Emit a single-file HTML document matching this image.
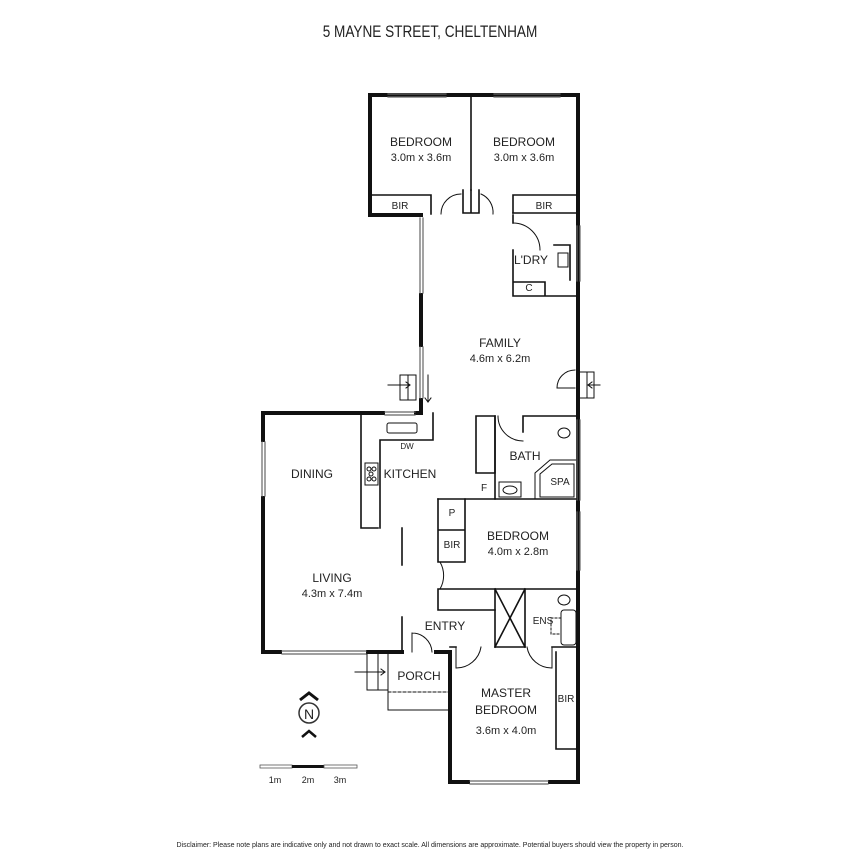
<!DOCTYPE html>
<html><head><meta charset="utf-8"><style>
html,body{margin:0;padding:0;background:#fff;}
svg{display:block;}
text{font-family:"Liberation Sans",sans-serif;fill:#222;}
</style></head><body>
<svg width="860" height="860" viewBox="0 0 860 860" xmlns="http://www.w3.org/2000/svg">
<text x="430" y="37" font-size="17" text-anchor="middle" transform="translate(430 0) scale(0.8 1) translate(-430 0)">5 MAYNE STREET, CHELTENHAM</text>

<g stroke="#111" fill="none" stroke-linecap="square">
<path d="M370 95 H578 V770" stroke-width="4"/>
<path d="M370 95 V215 H421" stroke-width="4"/>
<path d="M421 295 V345" stroke-width="4"/>
<path d="M421 400 V413 H416" stroke-width="4"/>
<path d="M383 413 H263 V440" stroke-width="4"/>
<path d="M263 498 V652 H280" stroke-width="4"/>
<path d="M368 652 H402" stroke-width="4"/>
<path d="M436 652 H450 V782 H468" stroke-width="4"/>
<path d="M550 782 H578 V770" stroke-width="4"/>
<g stroke-width="1.2" stroke="#666">
<path d="M388 94 H446 M388 97 H446 M494 94 H560 M494 97 H560"/>
<path d="M420 218 V293 M423 218 V293 M420 347 V398 M423 347 V398"/>
<path d="M385 412 H415 M385 415 H415"/>
<path d="M262 442 V496 M265 442 V496"/>
<path d="M282 651 H366 M282 654 H366"/>
<path d="M470 781 H548 M470 784 H548"/>
<path d="M577 226 V281 M580 226 V281 M577 420 V500 M580 420 V500 M577 512 V570 M580 512 V570"/>
</g>
<g stroke-width="1.6">
<path d="M471 95 V190"/>
<path d="M463 190 V213 H479 V190 M471 190 V213"/>
<path d="M372 195 H431 V214"/>
<path d="M513 213 V195 H576"/>
<path d="M513 213 H576"/>
<path d="M513 215 V223 M513 250 V296 H576 M513 282 H545 V296"/>
<path d="M554 245 H570 V280"/>
<path d="M361 413 V528 H378"/>
<path d="M380 528 V440 H433 V413"/>
<path d="M402 528 V565 M402 617 V652"/>
<path d="M476 416 H495 V473 H476 Z"/>
<path d="M495 416 V499 M523 416 V432 M523 416 H576"/>
<path d="M495 499 H576 M438 499 H495"/>
<path d="M438 499 V562 M438 562 H464 M465 499 V562 M438 530 H465"/>
<path d="M438 589 H576 M438 589 V610 H495"/>
<path d="M495 589 V647 M525 589 V647 M495 589 L525 647 M525 589 L495 647"/>
<path d="M450 647 H456 M495 647 H525 M552 647 H576"/>
<path d="M556 652 V749 H576"/>
</g>
<g stroke-width="1">
<path d="M441 214 A20 20 0 0 1 461 194"/>
<path d="M481 194 A20 20 0 0 1 493 214"/>
<path d="M513 223 A27 27 0 0 1 540 250"/>
<path d="M575 370 A18 18 0 0 0 557 388 H575"/>
<path d="M498 416 A25 25 0 0 0 523 441"/>
<path d="M440 562 A27 27 0 0 1 440 589 M440 562 H438"/>
<path d="M412 633 A20 20 0 0 1 432 652 M412 633 V652"/>
<path d="M456 647 V668 A25 25 0 0 0 481 647"/>
<path d="M552 647 V668 A25 25 0 0 1 527 647"/>
</g>
<g stroke-width="1">
<rect x="387" y="423" width="30" height="10" rx="2"/>
<rect x="365" y="463" width="13" height="22"/>
<circle cx="369" cy="469" r="2"/><circle cx="374" cy="469" r="2"/><circle cx="371" cy="474" r="2"/><circle cx="369" cy="479" r="2"/><circle cx="374" cy="479" r="2"/>
<ellipse cx="564" cy="433" rx="6" ry="5"/>
<path d="M535 499 V473 L550 460 H576 M540 497 V474 L552 464 H574 V497 Z"/>
<rect x="499" y="482" width="22" height="15"/>
<ellipse cx="510" cy="490" rx="7" ry="4"/>
<ellipse cx="564" cy="600" rx="6" ry="5"/>
<rect x="561" y="610" width="15" height="35" rx="3"/>
<rect x="551" y="618" width="10" height="16" stroke-dasharray="2 2"/>
<rect x="558" y="253" width="10" height="14"/>
<path d="M388 652 V710 H450"/>
<path d="M388 692 H450" stroke-dasharray="3 2"/>
<path d="M367 652 V690 H388 M378 652 V690"/>
<path d="M355 672 H385 M381 669 L385 672 L381 675"/>
<path d="M400 375 H416 V400 H400 Z M408 375 V400"/>
<path d="M388 385 H410 M406 382 L410 385 L406 388"/>
<path d="M428 375 V402 M425 398 L428 402 L431 398"/>
<path d="M580 372 H594 V398 H580 M587 372 V398 M600 385 H588 M592 382 L588 385 L592 388"/>
</g>
</g>

<g font-size="12" text-anchor="middle">
<text x="421" y="146">BEDROOM</text><text x="421" y="161" font-size="11">3.0m x 3.6m</text>
<text x="524" y="146">BEDROOM</text><text x="524" y="161" font-size="11">3.0m x 3.6m</text>
<text x="400" y="209" font-size="10">BIR</text><text x="544" y="209" font-size="10">BIR</text>
<text x="531" y="264">L'DRY</text><text x="529" y="291" font-size="10">C</text>
<text x="500" y="347">FAMILY</text><text x="500" y="362" font-size="11">4.6m x 6.2m</text>
<text x="407" y="449" font-size="8">DW</text>
<text x="312" y="478">DINING</text><text x="410" y="478">KITCHEN</text>
<text x="525" y="460">BATH</text><text x="560" y="485" font-size="10">SPA</text>
<text x="484" y="491" font-size="10">F</text>
<text x="452" y="516" font-size="10">P</text><text x="452" y="548" font-size="10">BIR</text>
<text x="518" y="540">BEDROOM</text><text x="518" y="555" font-size="11">4.0m x 2.8m</text>
<text x="332" y="582">LIVING</text><text x="332" y="597" font-size="11">4.3m x 7.4m</text>
<text x="445" y="630">ENTRY</text><text x="543" y="624" font-size="10">ENS</text>
<text x="419" y="680">PORCH</text>
<text x="506" y="697">MASTER</text><text x="506" y="714">BEDROOM</text><text x="506" y="734" font-size="11">3.6m x 4.0m</text>
<text x="566" y="702" font-size="10">BIR</text>
</g>

<g stroke="#333" fill="none">
<circle cx="309" cy="713" r="10" stroke-width="1.5"/>
<text x="309" y="719" font-size="14" text-anchor="middle" fill="#333" stroke="none">N</text>
<path d="M300 700 L309 693 L318 700" stroke-width="3" stroke="#111"/>
<path d="M302 737 L309 731 L316 737" stroke-width="2.5" stroke="#111"/>
</g>
<rect x="260" y="765" width="32" height="3" fill="none" stroke="#555" stroke-width="0.8"/>
<rect x="292" y="765" width="32" height="3" fill="#111"/>
<rect x="324" y="765" width="33" height="3" fill="none" stroke="#555" stroke-width="0.8"/>
<g font-size="9" text-anchor="middle"><text x="275" y="783">1m</text><text x="308" y="783">2m</text><text x="340" y="783">3m</text></g>

<text x="430" y="847" font-size="7" text-anchor="middle" fill="#444">Disclaimer: Please note plans are indicative only and not drawn to exact scale. All dimensions are approximate. Potential buyers should view the property in person.</text>
</svg>
</body></html>
